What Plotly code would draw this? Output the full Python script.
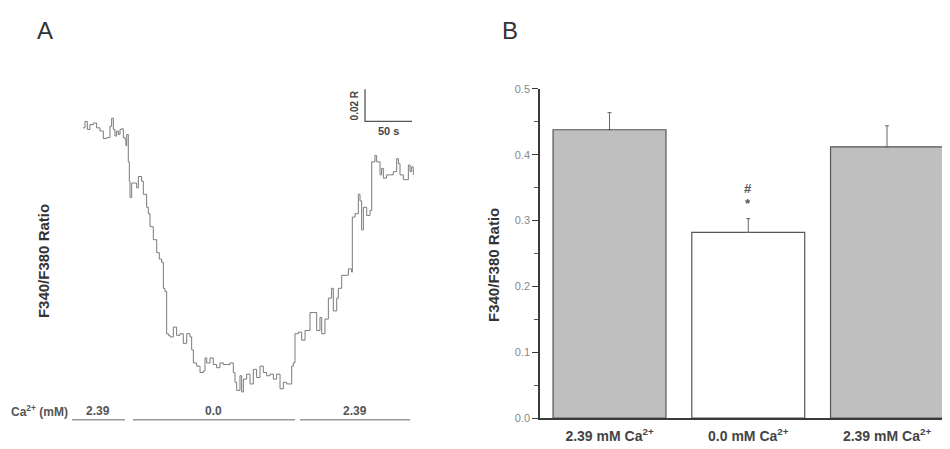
import plotly.graph_objects as go

# ---------------- Data ----------------
# Panel A: single-cell F340/F380 trace (time in s, ratio)
trace_time = [0.0, 2.1, 4.6, 7.4, 11.0, 14.5, 18.1, 21.6, 25.2, 28.7, 30.5, 32.3, 34.0, 35.8,
              37.6, 39.4, 41.1, 42.9, 44.7, 45.7, 46.5, 48.2, 49.3, 50.0, 51.8, 55.3, 57.1,
              58.9, 62.4, 64.2, 67.7, 69.5, 71.3, 74.8, 78.4, 81.2, 83.7, 85.5, 87.2, 89.0,
              90.8, 92.6, 96.1, 99.6, 103.2, 106.7, 110.3, 113.8, 115.6, 117.4, 120.9, 124.5,
              128.0, 129.8, 131.6, 135.1, 138.6, 142.2, 145.7, 149.3, 152.8, 156.4, 159.9,
              161.7, 163.5, 167.0, 168.8, 170.6, 174.1, 177.7, 181.2, 184.7, 188.3, 191.8,
              195.4, 198.9, 202.5, 206.0, 209.6, 213.1, 216.7, 220.2, 222.0, 223.8, 225.5,
              229.1, 232.6, 236.2, 239.7, 241.5, 245.0, 248.6, 252.1, 253.9, 257.4, 261.0,
              264.5, 266.3, 269.9, 271.6, 275.2, 278.7, 282.3, 285.8, 286.5, 289.4, 292.9,
              294.7, 296.4, 298.2, 301.8, 305.3, 307.1, 310.6, 312.4, 316.0, 317.7, 319.5,
              323.0, 326.6, 330.1, 333.7, 335.5, 337.2, 340.8, 344.3, 346.1, 347.9, 349.6, 351.4]
trace_ratio = [0.4388, 0.4428, 0.4378, 0.4408, 0.4418, 0.4388, 0.4368, 0.4321, 0.4327, 0.4398,
               0.4448, 0.4378, 0.4337, 0.4368, 0.4347, 0.4378, 0.4382, 0.4327, 0.4317, 0.4277,
               0.4347, 0.4176, 0.4055, 0.3954, 0.4044, 0.4044, 0.4014, 0.4085, 0.4055, 0.3974,
               0.3893, 0.3853, 0.3772, 0.3691, 0.3610, 0.3570, 0.3550, 0.3388, 0.3368, 0.3105,
               0.3095, 0.3085, 0.3146, 0.3095, 0.3105, 0.3045, 0.3105, 0.3085, 0.3004, 0.2923,
               0.2903, 0.2863, 0.2873, 0.2954, 0.2923, 0.2954, 0.2913, 0.2893, 0.2923, 0.2913,
               0.2913, 0.2923, 0.2863, 0.2802, 0.2752, 0.2843, 0.2742, 0.2822, 0.2853, 0.2792,
               0.2883, 0.2832, 0.2903, 0.2863, 0.2843, 0.2853, 0.2822, 0.2853, 0.2762, 0.2802,
               0.2792, 0.2792, 0.2903, 0.2923, 0.3105, 0.3115, 0.3065, 0.3125, 0.3125, 0.3237,
               0.3237, 0.3125, 0.3206, 0.3105, 0.3196, 0.3327, 0.3388, 0.3247, 0.3327, 0.3388,
               0.3469, 0.3469, 0.3509, 0.3489, 0.3832, 0.3853, 0.3974, 0.3933, 0.3752, 0.3893,
               0.3842, 0.3873, 0.4176, 0.4216, 0.4176, 0.4095, 0.4135, 0.4075, 0.4095, 0.4095,
               0.4115, 0.4196, 0.4165, 0.4095, 0.4065, 0.4065, 0.4156, 0.4115, 0.4145, 0.4095]

# Scale bar (value, units) and its origin in data units
scale_ratio = 0.02
scale_time = 50
scale_origin_time = 300.0
scale_origin_ratio = 0.4428

# Perfusion periods (start, end in s) and Ca2+ concentrations (mM)
period_start = [-11.7, 53.2, 230.9]
period_end = [44.7, 225.5, 347.9]
period_labels = ["2.39", "0.0", "2.39"]

# Panel B: mean ratio +/- SE
bar_categories = ["2.39 mM Ca<sup>2+</sup>", "0.0 mM Ca<sup>2+</sup>", "2.39 mM Ca<sup>2+</sup>"]
bar_means = [0.438, 0.282, 0.412]
bar_se = [0.026, 0.021, 0.032]
bar_colors = ["#bfbfbf", "#ffffff", "#bfbfbf"]
y_ticks = [0.0, 0.1, 0.2, 0.3, 0.4, 0.5]

# ---------------- Layout helpers ----------------
# The page body adds an 8 px margin, so the figure is drawn 8 px smaller
# and all positions are expressed in window pixels minus that offset.
OFF = 8
W, H = 950 - OFF, 449 - OFF
def px(x):
    return (x - OFF) / W
def py(y):
    return 1 - (y - OFF) / H

FONT = "Liberation Sans, Arial, sans-serif"

fig = go.Figure()

# Panel A trace
fig.add_trace(go.Scatter(
    x=trace_time, y=trace_ratio, mode="lines", line_shape="hv",
    line=dict(color="#7a7a7a", width=1), xaxis="x", yaxis="y", showlegend=False,
    hoverinfo="skip"))

# Scale bar
fig.add_trace(go.Scatter(
    x=[scale_origin_time, scale_origin_time, scale_origin_time + scale_time],
    y=[scale_origin_ratio + scale_ratio, scale_origin_ratio, scale_origin_ratio],
    mode="lines", line=dict(color="#555555", width=1.3), xaxis="x", yaxis="y",
    showlegend=False, hoverinfo="skip"))

# Panel B bars
fig.add_trace(go.Bar(
    x=[0, 1, 2], y=bar_means, width=0.814,
    marker=dict(color=bar_colors, line=dict(color="#555555", width=1.2)),
    error_y=dict(type="data", symmetric=False, array=bar_se, arrayminus=[0, 0, 0],
                 color="#666666", thickness=1, width=2),
    xaxis="x2", yaxis="y2", showlegend=False))

shapes = []
annotations = []

def ann(**kw):
    d = dict(showarrow=False, xanchor="center", yanchor="middle")
    d.update(kw)
    annotations.append(d)

# Perfusion bars under the trace
for s, e, lab in zip(period_start, period_end, period_labels):
    shapes.append(dict(type="line", xref="x", yref="paper", x0=s, x1=e,
                       y0=py(425), y1=py(425), line=dict(color="#9a9a9a", width=1.5)))
    ann(xref="x", yref="paper", x=(s + e) / 2, y=py(416), text="<b>%s</b>" % lab,
        font=dict(family=FONT, size=12, color="#555555"))

ann(xref="paper", yref="paper", x=px(39), y=py(416), text="<b>Ca<sup>2+</sup> (mM)</b>",
    font=dict(family=FONT, size=12, color="#555555"))
ann(xref="paper", yref="paper", x=px(45), y=py(25), text="A",
    font=dict(family=FONT, size=24, color="#333333"))
ann(xref="paper", yref="paper", x=px(510), y=py(25), text="B",
    font=dict(family=FONT, size=24, color="#333333"))
ann(xref="paper", yref="paper", x=px(43), y=py(262), text="<b>F340/F380 Ratio</b>",
    textangle=-90, font=dict(family=FONT, size=15, color="#333333"))
ann(xref="paper", yref="paper", x=px(494), y=py(266), text="<b>F340/F380 Ratio</b>",
    textangle=-90, font=dict(family=FONT, size=15, color="#333333"))
ann(xref="x", yref="y", x=scale_origin_time, y=scale_origin_ratio + scale_ratio / 2,
    xshift=-11, text="<b>%.2f R</b>" % scale_ratio, textangle=-90,
    font=dict(family=FONT, size=10, color="#444444"))
ann(xref="x", yref="y", x=scale_origin_time + scale_time / 2, y=scale_origin_ratio,
    yshift=-10, text="<b>%d s</b>" % scale_time,
    font=dict(family=FONT, size=11, color="#444444"))
ann(xref="x2", yref="y2", x=1, y=bar_means[1] + bar_se[1], yshift=15, text="<b>*</b>",
    font=dict(family=FONT, size=13, color="#555555"))
ann(xref="x2", yref="y2", x=1, y=bar_means[1] + bar_se[1], yshift=30, text="<b>#</b>",
    font=dict(family=FONT, size=13, color="#555555"))

fig.update_layout(
    width=W, height=H, margin=dict(l=0, r=0, t=0, b=0),
    paper_bgcolor="white", plot_bgcolor="white",
    font=dict(family=FONT),
    xaxis=dict(domain=[px(71.7), px(413.9)], range=[-12, 352], visible=False,
               showgrid=False, zeroline=False),
    yaxis=dict(domain=[py(400), py(80)], range=[0.2721, 0.4661], visible=False,
               showgrid=False, zeroline=False),
    xaxis2=dict(domain=[px(540), 1.0], range=[-0.501, 2.454], anchor="y2",
                tickvals=[0, 1, 2], ticktext=bar_categories, ticks="",
                showline=True, linecolor="#3a3a3a", linewidth=1.5,
                showgrid=False, zeroline=False, ticklabelstandoff=4,
                tickfont=dict(family=FONT, size=14, color="#444444", weight="bold")),
    yaxis2=dict(domain=[py(423.5), py(85)], range=[0, 0.5], anchor="x2",
                tickvals=y_ticks, tickformat=".1f", ticks="outside", ticklen=6,
                tickcolor="#3a3a3a", tickwidth=1.2,
                minor=dict(dtick=0.05, ticks="outside", ticklen=4, tickcolor="#555555"),
                showline=True, linecolor="#3a3a3a", linewidth=1.5,
                showgrid=False, zeroline=False,
                tickfont=dict(family=FONT, size=11, color="#888888")),
    shapes=shapes, annotations=annotations,
)

fig.write_html("out.html")
